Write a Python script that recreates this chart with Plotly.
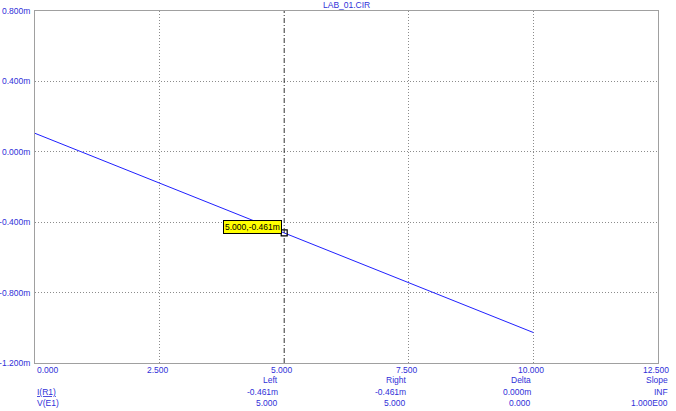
import plotly.graph_objects as go

# ---- data ----
title_text = "LAB_01.CIR"
v_e1 = [0.0, 5.0, 10.0]                 # V(E1)
i_r1 = [0.105, -0.461, -1.027]          # I(R1) in mA
x_ticks = [0.0, 2.5, 5.0, 7.5, 10.0, 12.5]
x_tick_labels = ["0.000", "2.500", "5.000", "7.500", "10.000", "12.500"]
y_ticks = [0.8, 0.4, 0.0, -0.4, -0.8, -1.2]
y_tick_labels = ["0.800m", "0.400m", "0.000m", "-0.400m", "-0.800m", "-1.200m"]
cursor_x = 5.0
cursor_y = -0.461
cursor_label = "5.000,-0.461m"
col_headers = ["Left", "Right", "Delta", "Slope"]
row_names = ["I(R1)", "V(E1)"]
row_values = [["-0.461m", "-0.461m", "0.000m", "INF"],
              ["5.000", "5.000", "0.000", "1.000E00"]]

BLUE = "#3030d8"
FONT = "Liberation Sans"
FS = 8.5
L, R, T, B = 35, 18, 11, 48

fig = go.Figure()
fig.add_trace(go.Scatter(x=v_e1, y=i_r1, mode="lines",
                         line=dict(color="#2020ff", width=1), hoverinfo="skip"))
fig.add_trace(go.Scatter(x=[cursor_x], y=[cursor_y], mode="markers",
                         marker=dict(symbol="square-open", size=6, color="black",
                                     line=dict(width=1.2, color="black")),
                         hoverinfo="skip"))

# vertical cursor line
fig.add_shape(type="line", xref="x", yref="paper", x0=cursor_x, x1=cursor_x, y0=0, y1=1,
              line=dict(color="#303030", width=1, dash="5px,2px,1px,2px"), layer="above")

annotations = []
# title
annotations.append(dict(text=title_text, xref="paper", yref="paper", x=0.5, y=1,
                        xanchor="center", yanchor="middle", yshift=6, showarrow=False,
                        font=dict(family=FONT, size=FS, color=BLUE)))
# cursor label
annotations.append(dict(text=cursor_label, xref="x", yref="y", x=cursor_x, y=cursor_y,
                        xanchor="right", yanchor="middle", xshift=-2, yshift=6,
                        showarrow=False, bgcolor="#ffff00", bordercolor="black",
                        borderwidth=1, borderpad=1,
                        font=dict(family=FONT, size=FS, color="black")))
# x tick labels
for i, (xv, lab) in enumerate(zip(x_ticks, x_tick_labels)):
    annotations.append(dict(text=lab, xref="x", yref="paper", x=xv, y=0,
                            xanchor="left" if i == 0 else "center",
                            xshift=0 if i == 0 else -2,
                            yanchor="middle", yshift=-7, showarrow=False,
                            font=dict(family=FONT, size=FS, color=BLUE)))
# bottom readout block
col_right_px = [280, 408, 533, 670]
row_px = [379.5, 391.5, 403]
base = 411 - B
for c, hdr in enumerate(col_headers):
    annotations.append(dict(text=hdr, xref="paper", yref="paper", x=0, y=0,
                            xshift=col_right_px[c] - L, xanchor="right",
                            yshift=-(row_px[0] - base), yanchor="middle",
                            showarrow=False, font=dict(family=FONT, size=FS, color=BLUE)))
    for r in range(len(row_names)):
        annotations.append(dict(text=row_values[r][c], xref="paper", yref="paper", x=0, y=0,
                                xshift=col_right_px[c] - L, xanchor="right",
                                yshift=-(row_px[r + 1] - base), yanchor="middle",
                                showarrow=False, font=dict(family=FONT, size=FS, color=BLUE)))
for r, name in enumerate(row_names):
    annotations.append(dict(text=name, xref="paper", yref="paper", x=0, y=0,
                            xshift=0, xanchor="left",
                            yshift=-(row_px[r + 1] - base), yanchor="middle",
                            showarrow=False,
                            font=dict(family=FONT, size=FS, color=BLUE,
                                      lineposition="under" if r == 0 else "none")))

GRID = "#8c8c8c"
GDASH = "1px,2px"
fig.update_layout(
    width=676, height=411,
    margin=dict(l=L, r=R, t=T, b=B, pad=0, autoexpand=False),
    paper_bgcolor="white", plot_bgcolor="white",
    showlegend=False,
    annotations=annotations,
    xaxis=dict(range=[0, 12.5], tickvals=[t for t in x_ticks if t != cursor_x],
               showticklabels=False, ticks="", automargin=False,
               showgrid=True, gridcolor=GRID, griddash=GDASH, gridwidth=1,
               zeroline=False, showline=True, mirror=True, linecolor="#a0a0a0", linewidth=1),
    yaxis=dict(range=[-1.2, 0.8], tickvals=y_ticks, ticktext=y_tick_labels,
               ticks="", ticklabelstandoff=2, automargin=False,
               tickfont=dict(family=FONT, size=FS, color=BLUE),
               showgrid=True, gridcolor=GRID, griddash=GDASH, gridwidth=1,
               zeroline=False, showline=True, mirror=True, linecolor="#a0a0a0", linewidth=1),
)

fig.write_html("out.html", config={"displayModeBar": False},
               post_script="document.body.style.margin='0';document.body.style.overflow='hidden';")
